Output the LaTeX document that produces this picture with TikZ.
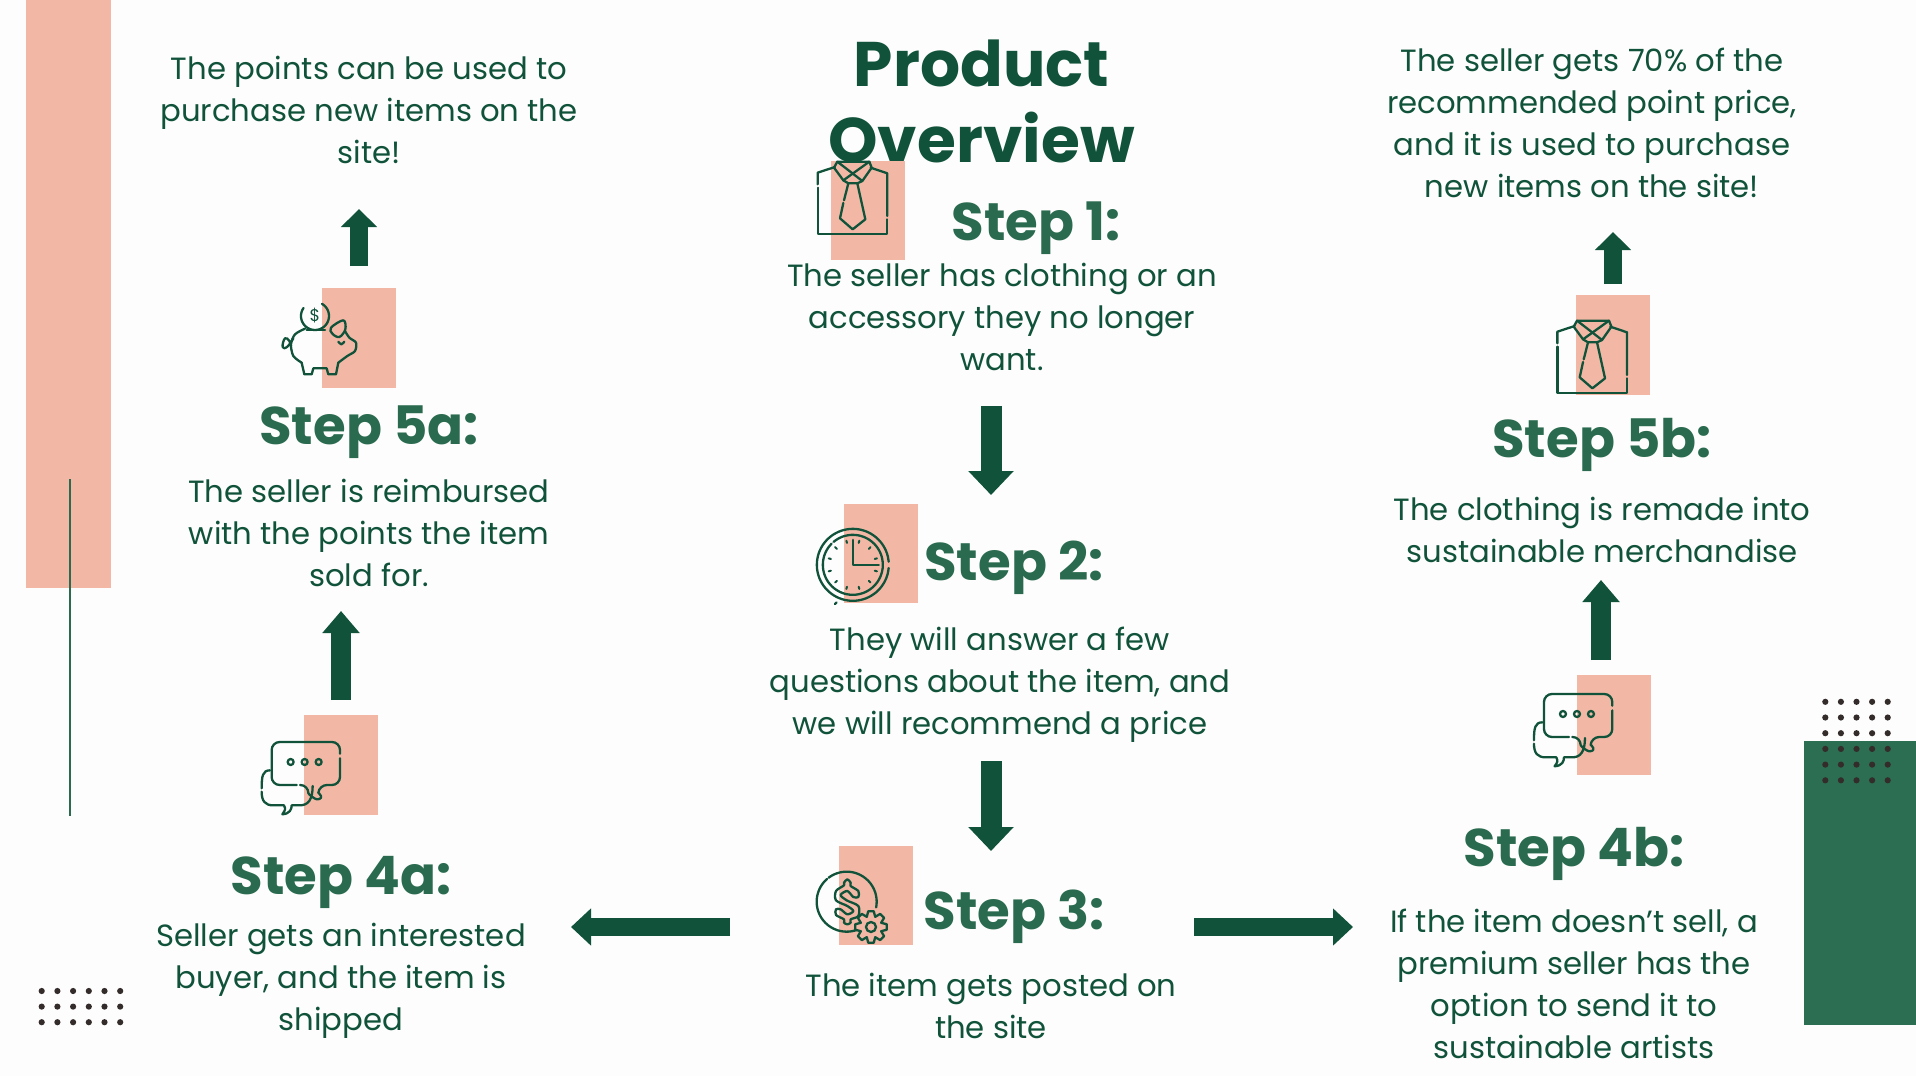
\documentclass[tikz,border=0pt]{standalone}
\usepackage{fontspec}
\setmainfont{Poppins}
\usepackage{xcolor}
\usetikzlibrary{arrows.meta,positioning}
\definecolor{leafgreen}{HTML}{10533A}
\definecolor{stepgreen}{HTML}{2A6B4F}
\definecolor{panelgreen}{HTML}{2B6E51}
\definecolor{peach}{HTML}{F2B8A5}
\definecolor{dotgrey}{HTML}{332C2B}
\definecolor{paper}{HTML}{FDFDFD}
% arc in flipped local coordinates
\newcommand{\ringarc}[5]{plot[domain=#4:#5,samples=40,smooth] ({#1+#3*cos(\x)},{#2+#3*sin(\x)})}
\tikzset{
  titlefont/.style={font=\fontsize{63}{76}\selectfont\bfseries,text=leafgreen,align=center,inner sep=0pt,anchor=base},
  headfont/.style={font=\fontsize{53}{60}\selectfont\bfseries,text=stepgreen,inner sep=0pt,anchor=base},
  bodyfont/.style={font=\fontsize{30.7}{42}\selectfont,text=leafgreen,align=center,inner sep=0pt,anchor=base},
  peachbox/.style={fill=peach,draw=none},
  iconline/.style={draw=leafgreen,line width=2.3pt,line cap=round,line join=round},
  zoomed/.style={x=0.3333pt,y=-0.3333pt},
  bigarrow/.style={draw=leafgreen,line width=21pt,-{Triangle[width=44pt,length=24pt]}},
  tallarrow/.style={draw=leafgreen,line width=20pt,-{Triangle[width=36pt,length=22pt]}},
  smallarrow/.style={draw=leafgreen,line width=18pt,-{Triangle[width=35pt,length=18pt]}},
  sidearrow/.style={draw=leafgreen,line width=18pt,-{Triangle[width=36pt,length=20pt]}},
  shirtpic/.pic={
    \draw[iconline] (113,130) -- (113,95) -- (165,78);
    \draw[iconline] (113,140) -- (113,280) -- (322,280) -- (322,235);
    \draw[iconline] (322,225) -- (322,97) -- (272,80);
    \draw[iconline] (172,62) -- (268,62) -- (275,80) -- (247,120) -- (232,127) -- (205,127) -- (190,118) -- (162,80) -- cycle;
    \draw[iconline] (172,62) -- (247,120);
    \draw[iconline] (268,62) -- (190,118);
    \draw[iconline] (205,127) -- (192,178);
    \draw[iconline] (190,186) -- (180,232) -- (218,265) -- (256,235) -- (232,127);
  },
  chatpic/.pic={
    \draw[iconline,rounded corners=8pt] (140,222) -- (65,222) -- (65,93) -- (270,93) -- (270,128);
    \draw[iconline,rounded corners=8pt] (270,142) -- (270,222) -- (207,222) .. controls (205,245) .. (225,265) .. controls (195,265) and (175,250) .. (175,222) -- (150,222);
    \draw[iconline] (60,178) .. controls (38,178) and (35,195) .. (35,232);
    \draw[iconline] (35,242) .. controls (35,270) and (45,283) .. (70,283) -- (102,283) .. controls (107,295) .. (97,310) .. controls (120,308) and (125,295) .. (125,283) -- (150,283) .. controls (175,283) and (188,265) .. (188,225);
    \foreach \cx in {122,164,206} {
      \draw[iconline] (\cx,153) circle[radius=9];
    }
  }
}

\begin{document}
\begin{tikzpicture}[x=1pt,y=-1pt]
  \useasboundingbox (0,0) rectangle (1916,1076);
  \fill[paper] (0,0) rectangle (1916,1076);

  % side decoration
  \fill[peach] (26,0) rectangle (111,587.5);
  \draw[stepgreen,line width=2pt] (70,479) -- (70,816);
  \fill[panelgreen] (1804,741) rectangle (1916,1025);
  \foreach \i in {0,...,4} {
    \foreach \j in {0,...,5} {
      \fill[dotgrey] (1825.3+15.6*\i,701.8+15.7*\j) circle[radius=3.1];
    }
  }
  \foreach \i in {0,...,5} {
    \foreach \j in {0,...,2} {
      \fill[dotgrey] (41.7+15.7*\i,991+15.6*\j) circle[radius=3.1];
    }
  }

  % texts
  \node[titlefont] (title) at (981.5,162) {Product\\Overview};

  \node[headfont] (stepone) at (1036,240) {Step 1:};
  \node[bodyfont] (steponetext) at (1002,370) {The seller has clothing or an\\accessory they no longer\\want.};
  \node[headfont] (steptwo) at (1014,580) {Step 2:};
  \node[bodyfont] (steptwotext) at (1000,734.5) {They will answer a few\\questions about the item, and\\we will recommend a price};
  \node[headfont] (stepthree) at (1014,929) {Step 3:};
  \node[bodyfont] (stepthreetext) at (991,1038) {The item gets posted on\\the site};
  \node[headfont] (stepfoura) at (341,894) {Step 4a:};
  \node[bodyfont] (stepfouratext) at (341,1030) {Seller gets an interested\\buyer, and the item is\\shipped};
  \node[headfont] (stepfivea) at (369,444) {Step 5a:};
  \node[bodyfont] (stepfiveatext) at (369,586) {The seller is reimbursed\\with the points the item\\sold for.};
  \node[bodyfont] (pointstext) at (369,163) {The points can be used to\\purchase new items on the\\site!};
  \node[headfont] (stepfourb) at (1574,866) {Step 4b:};
  \node[bodyfont] (stepfourbtext) at (1574,1058) {If the item doesn’t sell, a\\premium seller has the\\option to send it to\\sustainable artists};
  \node[headfont] (stepfiveb) at (1602,457) {Step 5b:};
  \node[bodyfont] (stepfivebtext) at (1602,562) {The clothing is remade into\\sustainable merchandise};
  \node[bodyfont] (recommendtext) at (1592,197) {The seller gets 70\% of the\\recommended point price,\\and it is used to purchase\\new items on the site!};

  % peach squares behind icons
  \fill[peachbox] (831,161) rectangle (905,260);
  \fill[peachbox] (844,504) rectangle (918,603);
  \fill[peachbox] (839,846) rectangle (913,945);
  \fill[peachbox] (322,288) rectangle (396,388);
  \fill[peachbox] (304,715) rectangle (378,815);
  \fill[peachbox] (1577,675) rectangle (1651,775);
  \fill[peachbox] (1576,295) rectangle (1650,395);

  % shirts
  \begin{scope}[shift={(780,141)},zoomed]
    \pic {shirtpic};
  \end{scope}
  \begin{scope}[shift={(1519.7,300)},zoomed]
    \pic {shirtpic};
  \end{scope}

  % chat bubbles
  \begin{scope}[shift={(250,711)},zoomed]
    \pic {chatpic};
  \end{scope}
  \begin{scope}[shift={(1522.3,663)},zoomed]
    \pic {chatpic};
  \end{scope}

  % clock
  \begin{scope}[shift={(780.5,501.5)},zoomed]
    \draw[iconline] \ringarc{217}{190}{108}{5}{355};
    \draw[iconline] \ringarc{217}{190}{90}{-130}{225};
    \foreach \a in {0,30,...,330} {
      \draw[iconline,line width=2pt] ({217+68*cos(\a+15)},{190+68*sin(\a+15)}) -- ({217+75*cos(\a+15)},{190+75*sin(\a+15)});
    }
    \draw[iconline] (217,115) -- (217,190) -- (295,190);
    \draw[iconline] (163,308) -- (168,303);
  \end{scope}

  % dollar and gear
  \begin{scope}[shift={(790,841)},zoomed]
    \draw[iconline] \ringarc{170}{182}{90}{-127}{11};
    \draw[iconline] \ringarc{170}{182}{90}{71}{229};
    \draw[iconline] plot[smooth cycle,tension=0.5] coordinates {(172,115) (182,125) (182,135) (205,150) (205,168) (190,168) (172,150) (152,162) (170,178) (205,195) (205,225) (182,235) (182,245) (172,250) (162,245) (162,235) (138,222) (138,205) (152,205) (172,220) (190,210) (172,195) (138,178) (138,150) (162,133) (162,125)};
    \foreach \a in {0,45,...,315} {
      \draw[iconline,shift={(243,258)}] ({33*cos(\a-22.5)},{33*sin(\a-22.5)}) -- ({48*cos(\a-10)},{48*sin(\a-10)}) -- ({48*cos(\a+10)},{48*sin(\a+10)}) -- ({33*cos(\a+22.5)},{33*sin(\a+22.5)});
    }
    \draw[iconline] (243,258) circle[radius=15];
  \end{scope}

  % piggy bank
  \begin{scope}[shift={(260,281)},zoomed]
    \draw[iconline] \ringarc{165}{105}{42}{-60}{215};
    \draw[iconline] (140,146) -- (195,146);
    \node[font=\fontsize{17}{17}\selectfont,text=leafgreen,inner sep=0pt] (coinsign) at (165,105) {\$};
    \draw[iconline] plot[smooth,tension=0.5] coordinates {(135,143) (105,160) (93,190) (100,225) (125,245)};
    \draw[iconline] (125,245) -- (133,280) -- (155,280) -- (160,262) -- (200,262) -- (205,280) -- (228,280) -- (235,245);
    \draw[iconline] plot[smooth,tension=0.5] coordinates {(235,245) (262,225) (285,210) (288,185) (268,170) (255,150)};
    \draw[iconline] plot[smooth cycle,tension=0.6] coordinates {(213,140) (250,118) (256,145) (238,168) (217,158)};
    \draw[iconline] plot[smooth,tension=0.7] coordinates {(235,182) (244,190) (253,182)};
    \draw[iconline] plot[smooth,tension=0.8] coordinates {(100,172) (82,197) (68,198) (75,172) (88,180) (93,195)};
  \end{scope}

  % arrows
  \coordinate (pointsfrom) at (359,266);
  \coordinate (pointsto) at (359,209);
  \coordinate (reimbfrom) at (341,700);
  \coordinate (reimbto) at (341,611);
  \coordinate (onefrom) at (991,406);
  \coordinate (oneto) at (991,495);
  \coordinate (twofrom) at (991,761);
  \coordinate (twoto) at (991,851);
  \coordinate (soldfrom) at (730,927);
  \coordinate (soldto) at (571,927);
  \coordinate (unsoldfrom) at (1194,927);
  \coordinate (unsoldto) at (1353,927);
  \coordinate (remadefrom) at (1601,660);
  \coordinate (remadeto) at (1601,580);
  \coordinate (recfrom) at (1613,284);
  \coordinate (recto) at (1613,232);
  \draw[smallarrow] (pointsfrom) -- (pointsto);
  \draw[tallarrow] (reimbfrom) -- (reimbto);
  \draw[bigarrow] (onefrom) -- (oneto);
  \draw[bigarrow] (twofrom) -- (twoto);
  \draw[sidearrow] (soldfrom) -- (soldto);
  \draw[sidearrow] (unsoldfrom) -- (unsoldto);
  \draw[tallarrow] (remadefrom) -- (remadeto);
  \draw[smallarrow] (recfrom) -- (recto);
\end{tikzpicture}
\end{document}
